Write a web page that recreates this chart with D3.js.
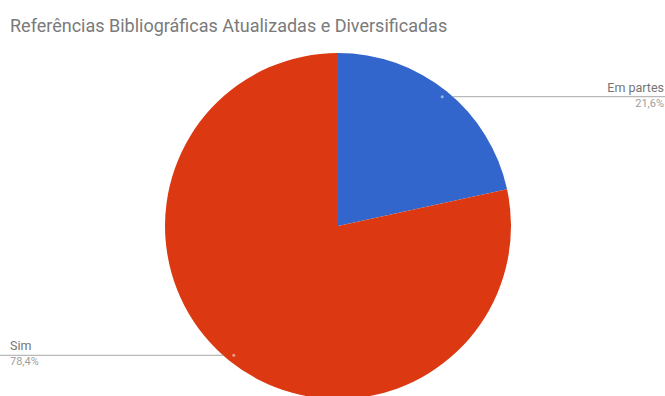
<!DOCTYPE html>
<html>
<head>
<meta charset="utf-8">
<script src="https://cdn.jsdelivr.net/npm/d3@7"></script>
<style>
  html, body { margin: 0; padding: 0; background: #fff; }
  svg { display: block; font-family: Roboto, "Noto Sans", sans-serif; }
</style>
</head>
<body>
<svg id="chart" width="665" height="396"></svg>
<script>
// Survey answers and their shares (percent)
const categories = ["Em partes", "Sim"];
const values = [21.6, 78.4];
const valueLabels = ["21,6%", "78,4%"];
const colors = ["#3366cc", "#dc3912"];
const title = "Referências Bibliográficas Atualizadas e Diversificadas";

const svg = d3.select("#chart");
const cx = 338, cy = 226, r = 173;

svg.append("text")
  .attr("x", 10).attr("y", 32)
  .attr("font-size", 18)
  .attr("fill", "#7a7a7a")
  .text(title);

const pie = d3.pie().sort(null).value(d => d)(values);
const arc = d3.arc().innerRadius(0).outerRadius(r);

const g = svg.append("g").attr("transform", `translate(${cx},${cy})`);
g.selectAll("path.slice")
  .data(pie)
  .join("path")
  .attr("class", "slice")
  .attr("d", arc)
  .attr("fill", (d, i) => colors[i]);

// Leader lines: horizontal from the slice's mid-angle point out to the edge of the chart
const anchorR = r * 0.96;
pie.forEach((d, i) => {
  const mid = (d.startAngle + d.endAngle) / 2;
  const ax = cx + anchorR * Math.sin(mid);
  const ay = cy - anchorR * Math.cos(mid);
  const right = Math.sin(mid) > 0;
  // where the horizontal line leaves the circle
  const dy = ay - cy;
  const edgeX = cx + (right ? 1 : -1) * Math.sqrt(r * r - dy * dy);
  const endX = right ? 665 : 0;

  svg.append("line")
    .attr("x1", edgeX).attr("y1", ay)
    .attr("x2", endX).attr("y2", ay)
    .attr("stroke", "#a8a8a8").attr("stroke-width", 1);
  svg.append("circle")
    .attr("cx", ax).attr("cy", ay).attr("r", 1.5)
    .attr("fill", "#ffffff").attr("opacity", 0.5);

  const tx = right ? 664 : 10;
  const anchor = right ? "end" : "start";
  svg.append("text")
    .attr("x", tx).attr("y", ay - 5)
    .attr("text-anchor", anchor)
    .attr("font-size", 12.5)
    .attr("fill", "#757575")
    .text(categories[i]);
  svg.append("text")
    .attr("x", tx).attr("y", ay + 10)
    .attr("text-anchor", anchor)
    .attr("font-size", 11)
    .attr("fill", "#9e9e9e")
    .text(valueLabels[i]);
});
</script>
</body>
</html>
